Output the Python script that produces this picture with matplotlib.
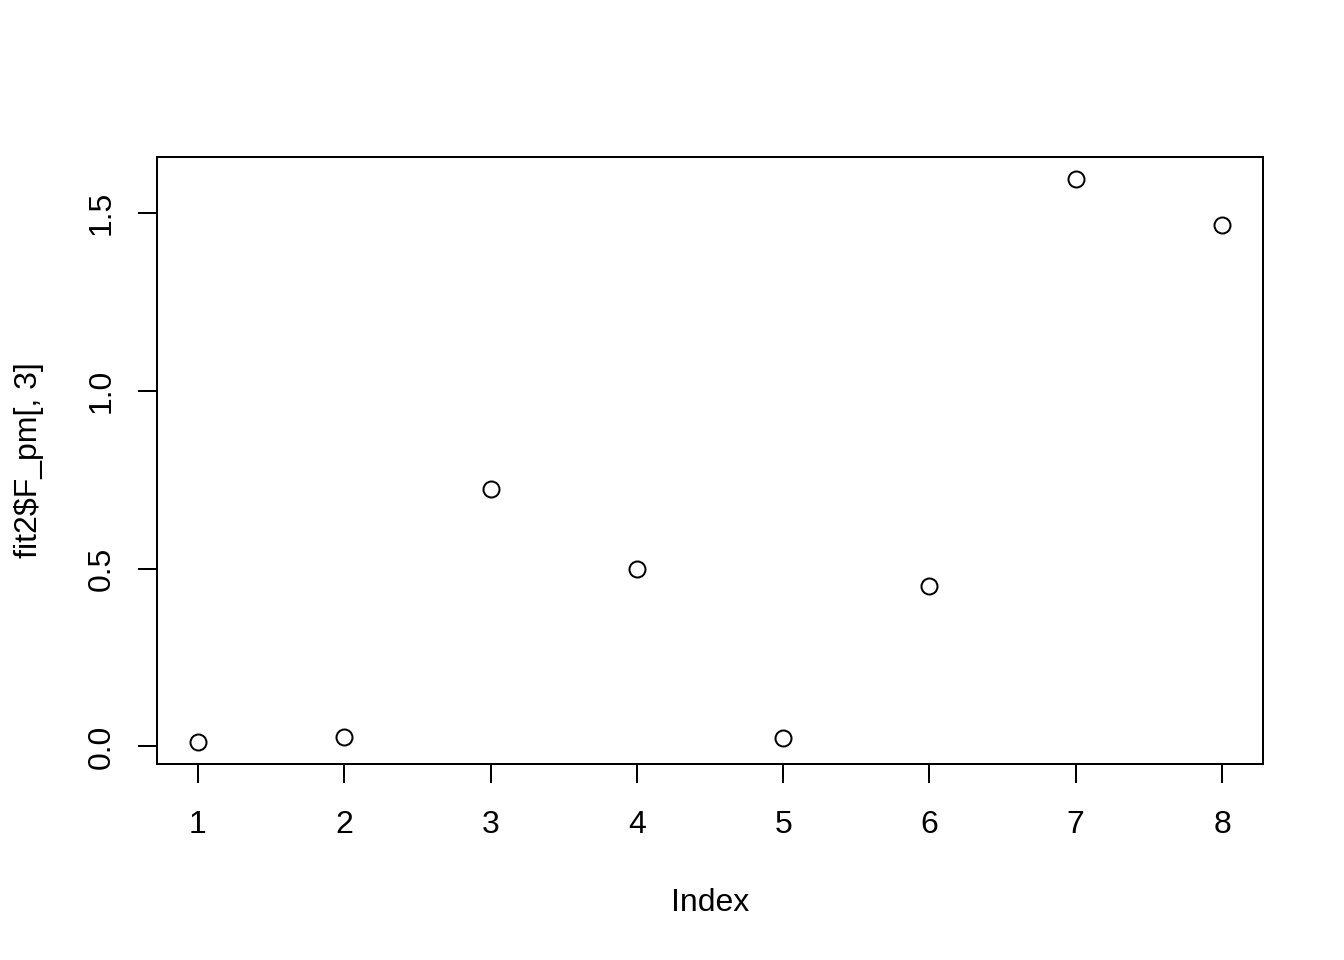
import matplotlib
matplotlib.use("Agg")
import matplotlib.pyplot as plt

plt.rcParams['font.family'] = ['Liberation Sans', 'DejaVu Sans']

# values
index = [1, 2, 3, 4, 5, 6, 7, 8]
values = [0.014, 0.026, 0.723, 0.498, 0.023, 0.450, 1.594, 1.467]
yticks = [0.0, 0.5, 1.0, 1.5]

fig = plt.figure(figsize=(7, 5), dpi=192)
ax = fig.add_axes([157 / 1344, 196 / 960, 1106 / 1344, 607 / 960])

ax.plot(index, values, linestyle='none', marker='o', markersize=6,
        markerfacecolor='none', markeredgecolor='black', markeredgewidth=0.75)

# R style 4% padding
xr = max(index) - min(index)
yr = max(values) - min(values)
ax.set_xlim(min(index) - 0.04 * xr, max(index) + 0.04 * xr)
ax.set_ylim(min(values) - 0.04 * yr, max(values) + 0.04 * yr)

ax.set_xticks(index)
ax.set_yticks(yticks)
ax.set_yticklabels(['%.1f' % v for v in yticks], rotation=90, va='center')
ax.tick_params(direction='out', length=7.2, width=0.75, labelsize=12)
ax.tick_params(axis='x', pad=10)
ax.tick_params(axis='y', pad=8)

for s in ax.spines.values():
    s.set_linewidth(0.75)

ax.set_xlabel('Index', fontsize=12, labelpad=18)
ax.set_ylabel('fit2\\$F_pm[, 3]', fontsize=12, labelpad=16)

fig.savefig('out.png', dpi=192)
